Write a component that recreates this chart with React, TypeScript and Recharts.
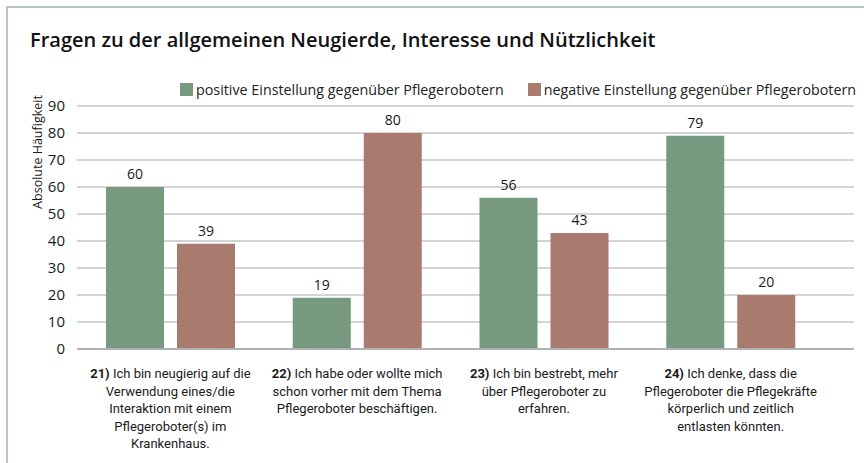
import React from "react";
import {
  BarChart,
  Bar,
  XAxis,
  YAxis,
  CartesianGrid,
  LabelList,
} from "recharts";

const title = "Fragen zu der allgemeinen Neugierde, Interesse und Nützlichkeit";
const yAxisLabel = "Absolute Häufigkeit";
const seriesNames = [
  "positive Einstellung gegenüber Pflegerobotern",
  "negative Einstellung gegenüber Pflegerobotern",
];

const categories = ["21)", "22)", "23)", "24)"];
const categoryLines = [
  ["Ich bin neugierig auf die", "Verwendung eines/die", "Interaktion mit einem", "Pflegeroboter(s) im", "Krankenhaus."],
  ["Ich habe oder wollte mich", "schon vorher mit dem Thema", "Pflegeroboter beschäftigen."],
  ["Ich bin bestrebt, mehr", "über Pflegeroboter zu", "erfahren."],
  ["Ich denke, dass die", "Pflegeroboter die Pflegekräfte", "körperlich und zeitlich", "entlasten könnten."],
];
const positiveValues = [60, 19, 56, 79];
const negativeValues = [39, 80, 43, 20];
const yTicks = [0, 10, 20, 30, 40, 50, 60, 70, 80, 90];

const GREEN = "#76997f";
const RED = "#a97b6f";
const FONT = "'Open Sans', sans-serif";
const NARROW = "Roboto, sans-serif";

const chartData = categories.map((c, i) => ({
  cat: c,
  positive: positiveValues[i],
  negative: negativeValues[i],
}));

function CategoryTick(props: any) {
  const { x, y, payload } = props;
  const i = categories.indexOf(payload.value);
  const lines = categoryLines[i] || [];
  return (
    <g transform={`translate(${x},${y})`}>
      <text textAnchor="middle" fontFamily={NARROW} fontSize={13} fill="#1a1a1a">
        {lines.map((line, k) => (
          <tspan key={k} x={0} y={21 + k * 17.5}>
            {k === 0 ? (
              <>
                <tspan fontWeight={700}>{payload.value}</tspan> {line}
              </>
            ) : (
              line
            )}
          </tspan>
        ))}
      </text>
    </g>
  );
}

function LegendBox() {
  const colors = [GREEN, RED];
  return (
    <div
      style={{
        position: "absolute",
        left: 180,
        top: 80,
        display: "flex",
        whiteSpace: "nowrap",
        fontFamily: FONT,
        fontSize: 14.3,
        color: "#222",
      }}
    >
      {seriesNames.map((n, i) => (
        <div key={n} style={{ display: "flex", alignItems: "center", marginRight: 24 }}>
          <span style={{ width: 13, height: 13, background: colors[i], display: "inline-block", marginRight: 3 }} />
          <span>{n}</span>
        </div>
      ))}
    </div>
  );
}

export default function App() {
  return (
    <div style={{ position: "fixed", left: 0, top: 0, width: 864, height: 463, background: "#fff", overflow: "hidden" }}>
      <div
        style={{
          position: "absolute",
          left: 6,
          top: 6,
          width: 900,
          height: 500,
          borderTop: "2px solid #b4c7b8",
          borderLeft: "2px solid #b4c7b8",
        }}
      />
      <div
        style={{
          position: "absolute",
          left: 30,
          top: 26,
          fontFamily: FONT,
          fontWeight: 600,
          fontSize: 20,
          color: "#111",
          whiteSpace: "nowrap",
        }}
      >
        {title}
      </div>
      <LegendBox />
      <div style={{ position: "absolute", left: 0, top: 0 }}>
        <BarChart
          width={864}
          height={463}
          data={chartData}
          margin={{ top: 106, right: 10, bottom: 14, left: 0 }}
          barGap={13}
          barSize={58}
        >
          <CartesianGrid vertical={false} stroke="#a8a8a8" />
          <XAxis
            dataKey="cat"
            height={100}
            padding={{ left: 0, right: 30 }}
            tick={<CategoryTick />}
            tickLine={false}
            axisLine={{ stroke: "#b0b0b0", strokeWidth: 2 }}
            interval={0}
          />
          <YAxis
            width={77}
            domain={[0, 90]}
            ticks={yTicks}
            axisLine={false}
            tickLine={false}
            tickMargin={6}
            tick={{ fill: "#1a1a1a", fontSize: 15, fontFamily: FONT }}
            label={{
              content: () => (
                <text
                  x={37}
                  y={152}
                  transform="rotate(-90 37 152)"
                  textAnchor="middle"
                  dominantBaseline="central"
                  fontFamily={FONT}
                  fontSize={12.5}
                  fill="#1a1a1a"
                >
                  {yAxisLabel}
                </text>
              ),
            }}
          />
          <Bar dataKey="positive" name={seriesNames[0]} fill={GREEN} isAnimationActive={false}>
            <LabelList dataKey="positive" position="top" offset={8} fill="#1a1a1a" fontSize={14} fontFamily={FONT} />
          </Bar>
          <Bar dataKey="negative" name={seriesNames[1]} fill={RED} isAnimationActive={false}>
            <LabelList dataKey="negative" position="top" offset={8} fill="#1a1a1a" fontSize={14} fontFamily={FONT} />
          </Bar>
        </BarChart>
      </div>
    </div>
  );
}
